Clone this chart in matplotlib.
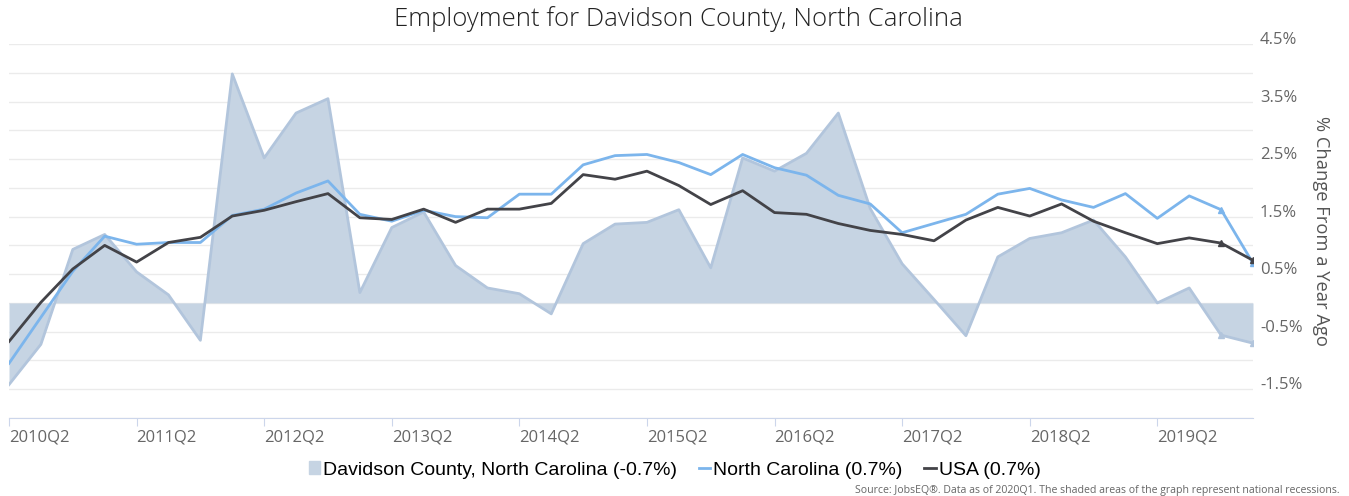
#!/usr/bin/env python3
import matplotlib
matplotlib.use('Agg')
import matplotlib.pyplot as plt
import matplotlib.transforms as mtransforms
import numpy as np
from matplotlib.ticker import MultipleLocator, FixedLocator
from matplotlib.patches import Patch
from matplotlib.lines import Line2D

# quarters 2010Q2 .. 2020Q1
quarters = [f'{y}Q{q}' for y in range(2010, 2021) for q in range(1, 5)][1:41]
tick_labels = [f'{y}Q2' for y in range(2010, 2020)]

davidson = [-1.42, -0.72, 0.93, 1.19, 0.54, 0.14, -0.65, 3.98, 2.52, 3.30,
            3.55, 0.18, 1.31, 1.58, 0.65, 0.26, 0.16, -0.19, 1.03, 1.37,
            1.40, 1.62, 0.61, 2.52, 2.29, 2.60, 3.30, 1.64, 0.68, 0.06,
            -0.57, 0.80, 1.12, 1.22, 1.44, 0.80, 0.00, 0.26, -0.56, -0.70]
north_carolina = [-1.05, -0.25, 0.55, 1.16, 1.02, 1.05, 1.05, 1.52, 1.63, 1.91,
                  2.12, 1.54, 1.42, 1.61, 1.50, 1.48, 1.89, 1.89, 2.40, 2.56,
                  2.58, 2.44, 2.23, 2.58, 2.35, 2.22, 1.87, 1.72, 1.22, 1.38,
                  1.54, 1.89, 1.99, 1.79, 1.66, 1.90, 1.47, 1.86, 1.62, 0.69]
usa = [-0.67, 0.01, 0.59, 1.00, 0.71, 1.05, 1.14, 1.51, 1.61, 1.76,
       1.90, 1.48, 1.45, 1.63, 1.40, 1.63, 1.63, 1.73, 2.23, 2.15,
       2.29, 2.04, 1.71, 1.95, 1.57, 1.54, 1.38, 1.26, 1.19, 1.08,
       1.44, 1.66, 1.51, 1.72, 1.42, 1.22, 1.03, 1.13, 1.04, 0.74]

x = np.arange(len(quarters))

fig = plt.figure(figsize=(13.49, 4.96), dpi=100)
ax = fig.add_axes([9/1349, 1-418/496, (1253-9)/1349, (418-44)/496])

area_fill = '#c6d4e3'
area_edge = '#b2c5dc'
nc_col = '#7cb5ec'
us_col = '#434348'

ax.fill_between(x, davidson, 0, color=area_fill, lw=0, zorder=2)
ax.plot(x, davidson, color=area_edge, lw=2, zorder=3)
ax.plot(x, north_carolina, color=nc_col, lw=2, zorder=4)
ax.plot(x, usa, color=us_col, lw=2, zorder=5)
for s, c in [(davidson, area_edge), (north_carolina, nc_col), (usa, us_col)]:
    ax.plot(x[-2:], s[-2:], ls='none', marker='^', ms=4, color=c, zorder=6)

ax.set_xlim(0, len(quarters) - 1)
ax.set_ylim(-2.0, 4.5)
ax.yaxis.set_minor_locator(MultipleLocator(0.5))
ax.yaxis.set_major_locator(FixedLocator([-1.5, -0.5, 0.5, 1.5, 2.5, 3.5, 4.5]))
ax.grid(True, which='both', axis='y', color='#ebebeb', lw=1, zorder=0)
ax.yaxis.tick_right()
ax.set_yticklabels(['-1.5%', '-0.5%', '0.5%', '1.5%', '2.5%', '3.5%', '4.5%'])
ax.tick_params(axis='y', which='both', length=0, pad=5, labelsize=12, labelcolor='#666666')
shift = mtransforms.ScaledTranslation(0, 6/100, fig.dpi_scale_trans)
for t in ax.get_yticklabels():
    t.set_family('Open Sans')
    t.set_transform(t.get_transform() + shift)

ax.set_xticks(x[::4])
ax.set_xticklabels(tick_labels, ha='left', family='Open Sans')
ax.tick_params(axis='x', length=6, color='#ccd6eb', labelsize=12, labelcolor='#666666', pad=2)

for side in ['top', 'left', 'right']:
    ax.spines[side].set_visible(False)
ax.spines['bottom'].set_color('#ccd6eb')
ax.spines['bottom'].set_zorder(1)

ax.yaxis.set_label_position('right')
ax.set_ylabel('% Change From a Year Ago', rotation=-90, family='Open Sans',
              size=13.2, color='#555555', labelpad=20)

fig.text(0.503, 0.962, 'Employment for Davidson County, North Carolina',
         ha='center', va='center', family='Open Sans', fontweight='light',
         size=18.5, color='#222222')

handles = [Patch(facecolor=area_fill, edgecolor=area_fill),
           Line2D([], [], color=nc_col, lw=2),
           Line2D([], [], color=us_col, lw=2)]
labels = ['Davidson County, North Carolina (-0.7%)', 'North Carolina (0.7%)', 'USA (0.7%)']
fig.legend(handles, labels, loc='center', bbox_to_anchor=(0.5, 1-470/496), ncol=3,
           frameon=False, handlelength=0.6, handleheight=0.6, handletextpad=0.15,
           columnspacing=1.1, prop={'family': 'Liberation Sans', 'size': 14})

fig.text(0.993, 1-490/496, 'Source: JobsEQ®. Data as of 2020Q1. The shaded areas of the graph represent national recessions.',
         ha='right', va='center', family='Open Sans', size=7.6, color='#666666')

fig.savefig('out.png', dpi=100)
